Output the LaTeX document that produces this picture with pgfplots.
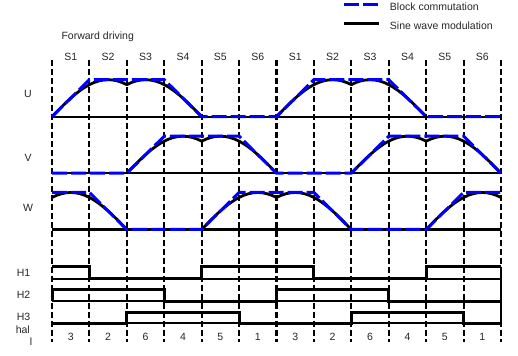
\documentclass[border=0pt]{standalone}
\usepackage{fontspec}
\setmainfont{Liberation Sans}
\usepackage{pgfplots}
\usepackage{pgfplotstable}
\pgfplotsset{compat=1.18}

\pgfplotstableread{
s f
0 0
0.125 0.1305
0.25 0.2588
0.375 0.3827
0.5 0.5
0.625 0.6088
0.75 0.7071
0.875 0.7934
1 0.8660
1.125 0.9239
1.25 0.9659
1.375 0.9914
1.5 1
1.625 0.9914
1.75 0.9659
1.875 0.9239
2 0.8660
2.125 0.9239
2.25 0.9659
2.375 0.9914
2.5 1
2.625 0.9914
2.75 0.9659
2.875 0.9239
3 0.8660
3.125 0.7934
3.25 0.7071
3.375 0.6088
3.5 0.5
3.625 0.3827
3.75 0.2588
3.875 0.1305
4 0
}\hump

\newcommand\lf{\fontsize{10.5bp}{12.6bp}\selectfont}
\colorlet{txt}{black!85}

\begin{document}
\begin{tikzpicture}
\begin{axis}[
  scale only axis, width=518bp, height=356bp,
  xmin=-1.3898, xmax=12.4543, ymin=-356, ymax=0,
  hide axis, clip=false,
  sine/.style={black, line width=2.8bp, line join=round},
  block/.style={color={rgb,255:red,0;green,0;blue,255}, line width=3bp, dash pattern=on 15bp off 4bp},
  base/.style={black, line width=2.2bp},
  hall/.style={black, line width=3bp, const plot},
  vline/.style={black, line width=2.1bp, dash pattern=on 6.5bp off 2.5bp},
  Uf/.style={y filter/.expression={-116.7+37*y}},
  Vf/.style={y filter/.expression={-173.2+37*y}},
  Wf/.style={y filter/.expression={-229.5+37*y}},
  Hone/.style={y filter/.expression={-279+12*y}},
  Htwo/.style={y filter/.expression={-301+11*y}},
  Hthree/.style={y filter/.expression={-323+11*y}},
  legend style={draw=none, fill=none, inner sep=0pt, outer sep=0pt,
    at={(axis cs:7.777,-2.6)}, anchor=north west,
    row sep=9.5bp, column sep=9bp, font=\lf, text=txt,
    nodes={inner sep=0pt, text height=7.5bp, text depth=2.5bp}},
  legend cell align=left,
  legend image code/.code={\draw[#1] (0bp,3.75bp) -- (35bp,3.75bp);},
]
\addlegendimage{block}
\addlegendimage{sine}

% sector separators
\pgfplotsinvokeforeach{0,...,12}{\addplot[vline, forget plot] coordinates {(#1,-60) (#1,-342)};}

% baselines
\addplot[base, Uf, forget plot] coordinates {(0,0) (12,0)};
\addplot[base, Vf, forget plot] coordinates {(0,0) (12,0)};
\addplot[base, Wf, forget plot] coordinates {(0,0) (12,0)};
\addplot[base, Hone, forget plot] coordinates {(0,0) (12,0)};
\addplot[base, Htwo, forget plot] coordinates {(0,0) (12,0)};
\addplot[base, Hthree, forget plot] coordinates {(0,0) (12,0)};

% sine wave modulation
\addplot[sine, Uf, forget plot] table[x expr=\thisrow{s}, y=f] {\hump};
\addplot[sine, Uf, forget plot] table[x expr=\thisrow{s}+6, y=f] {\hump};
\addplot[sine, Vf, forget plot] table[x expr=\thisrow{s}+2, y=f] {\hump};
\addplot[sine, Vf, forget plot] table[x expr=\thisrow{s}+8, y=f] {\hump};
\addplot[sine, Wf, forget plot, restrict x to domain=-0.001:12.001] table[x expr=\thisrow{s}-2, y=f] {\hump};
\addplot[sine, Wf, forget plot] table[x expr=\thisrow{s}+4, y=f] {\hump};
\addplot[sine, Wf, forget plot, restrict x to domain=-0.001:12.001] table[x expr=\thisrow{s}+10, y=f] {\hump};

% block commutation
\addplot[block, Uf, forget plot] coordinates {(0,0) (1,1) (3,1) (4,0) (6,0) (7,1) (9,1) (10,0) (12,0)};
\addplot[block, Vf, forget plot] coordinates {(0,0) (2,0) (3,1) (5,1) (6,0) (8,0) (9,1) (11,1) (12,0)};
\addplot[block, Wf, forget plot] coordinates {(0,1) (1,1) (2,0) (4,0) (5,1) (7,1) (8,0) (10,0) (11,1) (12,1)};

% hall signals
\addplot[hall, Hone, forget plot] coordinates {(0,1) (1,0) (4,1) (7,0) (10,1) (12,1)};
\addplot[hall, Htwo, forget plot] coordinates {(0,0) (0,1) (3,0) (6,1) (9,0) (12,0)};
\addplot[hall, Hthree, forget plot] coordinates {(0,0) (2,1) (5,0) (8,1) (11,0) (12,0)};
\addplot[black, line width=2.2bp, forget plot] coordinates {(12,-267) (12,-323)};

\legend{Block commutation, Sine wave modulation}

% labels
\node[anchor=base west, font=\lf, text=txt] at (axis cs:0.16,-39.5) {Forward driving};
\node[font=\lf, text=txt] at (axis cs:0.5,-56.5) {S1};
\node[font=\lf, text=txt] at (axis cs:1.5,-56.5) {S2};
\node[font=\lf, text=txt] at (axis cs:2.5,-56.5) {S3};
\node[font=\lf, text=txt] at (axis cs:3.5,-56.5) {S4};
\node[font=\lf, text=txt] at (axis cs:4.5,-56.5) {S5};
\node[font=\lf, text=txt] at (axis cs:5.5,-56.5) {S6};
\node[font=\lf, text=txt] at (axis cs:6.5,-56.5) {S1};
\node[font=\lf, text=txt] at (axis cs:7.5,-56.5) {S2};
\node[font=\lf, text=txt] at (axis cs:8.5,-56.5) {S3};
\node[font=\lf, text=txt] at (axis cs:9.5,-56.5) {S4};
\node[font=\lf, text=txt] at (axis cs:10.5,-56.5) {S5};
\node[font=\lf, text=txt] at (axis cs:11.5,-56.5) {S6};

\node[font=\lf, text=txt] at (axis cs:-0.641,-94.2) {U};
\node[font=\lf, text=txt] at (axis cs:-0.641,-157.5) {V};
\node[font=\lf, text=txt] at (axis cs:-0.641,-207.5) {W};
\node[font=\lf, text=txt] at (axis cs:-0.76,-273) {H1};
\node[font=\lf, text=txt] at (axis cs:-0.76,-295) {H2};
\node[font=\lf, text=txt] at (axis cs:-0.76,-317) {H3};
\node[font=\lf, text=txt] at (axis cs:-0.78,-329.5) {hal};
\node[font=\lf, text=txt] at (axis cs:-0.56,-341.5) {l};

\node[font=\lf, text=txt] at (axis cs:0.5,-337) {3};
\node[font=\lf, text=txt] at (axis cs:1.5,-337) {2};
\node[font=\lf, text=txt] at (axis cs:2.5,-337) {6};
\node[font=\lf, text=txt] at (axis cs:3.5,-337) {4};
\node[font=\lf, text=txt] at (axis cs:4.5,-337) {5};
\node[font=\lf, text=txt] at (axis cs:5.5,-337) {1};
\node[font=\lf, text=txt] at (axis cs:6.5,-337) {3};
\node[font=\lf, text=txt] at (axis cs:7.5,-337) {2};
\node[font=\lf, text=txt] at (axis cs:8.5,-337) {6};
\node[font=\lf, text=txt] at (axis cs:9.5,-337) {4};
\node[font=\lf, text=txt] at (axis cs:10.5,-337) {5};
\node[font=\lf, text=txt] at (axis cs:11.5,-337) {1};
\end{axis}
\pgfresetboundingbox
\path (current axis.south west) rectangle (current axis.north east);
\end{tikzpicture}
\end{document}
